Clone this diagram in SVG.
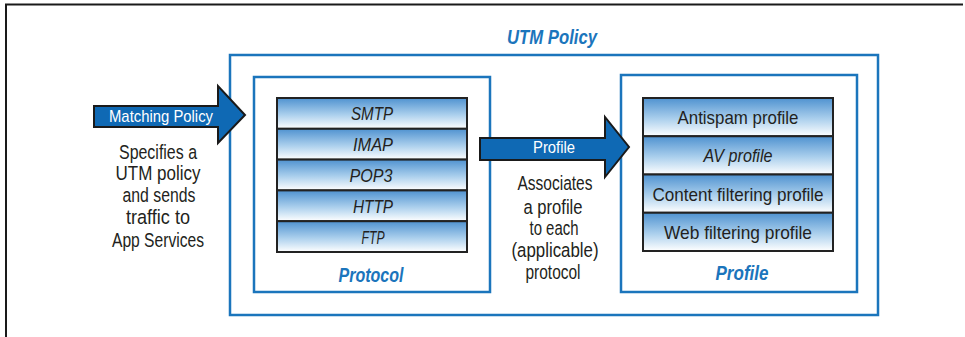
<svg xmlns="http://www.w3.org/2000/svg" width="965" height="337" viewBox="0 0 965 337">
<defs>
<linearGradient id="rowg" x1="0" y1="0" x2="0" y2="1">
<stop offset="0" stop-color="#4f92d0"/>
<stop offset="0.55" stop-color="#acd0ed"/>
<stop offset="1" stop-color="#ffffff"/>
</linearGradient>
</defs>
<style>
.frame{fill:none;stroke:#1a1a1a;stroke-width:2}
.box{fill:#fff;stroke:#1b75bc;stroke-width:2.5}
.row{fill:url(#rowg);stroke:#222;stroke-width:2}
.arrow{fill:#0f69b4;stroke:#1a1a1a;stroke-width:2;stroke-linejoin:miter}
.t{font-family:"Liberation Sans",Arial,sans-serif;fill:#231f20;text-anchor:middle}
.b{font-size:20.5px}
.r{font-size:19px}
.i{font-style:italic}
.w{fill:#fff;font-size:17px}
.h{fill:#1b75bc;font-weight:bold;font-style:italic;font-size:21px}
</style>
<path class="frame" d="M6,337 V4.5 H963"/>
<g id="utm">
<rect class="box" x="230" y="55" width="648" height="260"/>
<text class="t h" x="552" y="44" textLength="90" lengthAdjust="spacingAndGlyphs">UTM Policy</text>
</g>
<g id="protocol">
<rect class="box" x="254" y="77" width="236" height="215"/>
<rect class="row" x="277" y="98" width="190" height="30.8"/>
<rect class="row" x="277" y="128.8" width="190" height="30.8"/>
<rect class="row" x="277" y="159.6" width="190" height="30.8"/>
<rect class="row" x="277" y="190.4" width="190" height="30.8"/>
<rect class="row" x="277" y="221.2" width="190" height="30.8"/>
<text class="t r i" x="372" y="120" textLength="42" lengthAdjust="spacingAndGlyphs">SMTP</text>
<text class="t r i" x="373" y="151" textLength="40" lengthAdjust="spacingAndGlyphs">IMAP</text>
<text class="t r i" x="371" y="182" textLength="43" lengthAdjust="spacingAndGlyphs">POP3</text>
<text class="t r i" x="373" y="213" textLength="40" lengthAdjust="spacingAndGlyphs">HTTP</text>
<text class="t r i" x="373" y="244" textLength="23" lengthAdjust="spacingAndGlyphs">FTP</text>
<text class="t h" x="371" y="282" textLength="65" lengthAdjust="spacingAndGlyphs">Protocol</text>
</g>
<g id="profile">
<rect class="box" x="621" y="75" width="236" height="217"/>
<rect class="row" x="643" y="98" width="190" height="38.25"/>
<rect class="row" x="643" y="136.25" width="190" height="38.25"/>
<rect class="row" x="643" y="174.5" width="190" height="38.25"/>
<rect class="row" x="643" y="212.75" width="190" height="38.25"/>
<text class="t r" x="738" y="124" textLength="121" lengthAdjust="spacingAndGlyphs">Antispam profile</text>
<text class="t r i" x="738" y="162" textLength="69" lengthAdjust="spacingAndGlyphs">AV profile</text>
<text class="t r" x="738" y="201" textLength="171" lengthAdjust="spacingAndGlyphs">Content filtering profile</text>
<text class="t r" x="738" y="239" textLength="148" lengthAdjust="spacingAndGlyphs">Web filtering profile</text>
<text class="t h" x="742" y="280" textLength="53" lengthAdjust="spacingAndGlyphs">Profile</text>
</g>
<g id="connectors">
<g id="matching-policy">
<polygon class="arrow" points="94,106 218,106 218,86 245,115 218,143 218,127 94,127"/>
<text class="t w" x="161" y="122" textLength="104" lengthAdjust="spacingAndGlyphs">Matching Policy</text>
<text class="t b" x="158" y="159" textLength="78" lengthAdjust="spacingAndGlyphs">Specifies a</text>
<text class="t b" x="158" y="180" textLength="85" lengthAdjust="spacingAndGlyphs">UTM policy</text>
<text class="t b" x="159" y="202" textLength="73" lengthAdjust="spacingAndGlyphs">and sends</text>
<text class="t b" x="158" y="224" textLength="64" lengthAdjust="spacingAndGlyphs">traffic to</text>
<text class="t b" x="158" y="247" textLength="92" lengthAdjust="spacingAndGlyphs">App Services</text>
</g>
<g id="profile-arrow">
<polygon class="arrow" points="480,138 605,138 605,117 629,147 605,177 605,160 480,160"/>
<text class="t w" x="554" y="153" textLength="42" lengthAdjust="spacingAndGlyphs">Profile</text>
<text class="t b" x="555" y="190" textLength="75" lengthAdjust="spacingAndGlyphs">Associates</text>
<text class="t b" x="553" y="214" textLength="59" lengthAdjust="spacingAndGlyphs">a profile</text>
<text class="t b" x="554" y="235" textLength="49" lengthAdjust="spacingAndGlyphs">to each</text>
<text class="t b" x="555" y="257" textLength="87" lengthAdjust="spacingAndGlyphs">(applicable)</text>
<text class="t b" x="553" y="279" textLength="55" lengthAdjust="spacingAndGlyphs">protocol</text>
</g>
</g>
</svg>
